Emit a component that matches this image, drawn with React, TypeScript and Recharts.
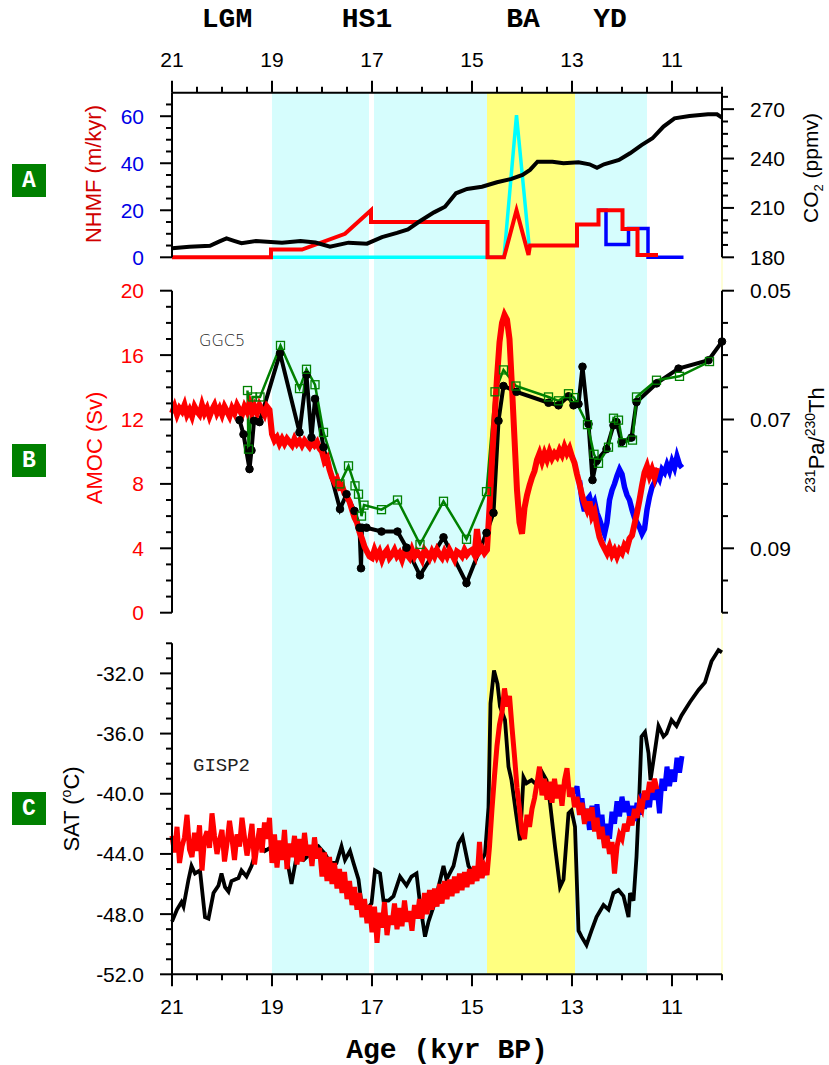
import React from "react";
import { ComposedChart, Line, XAxis, YAxis, ReferenceArea, ReferenceLine } from "recharts";

// page + plot frame
const W = 829;
const H = 1065;
const PLOT_LEFT = 172;
const PLOT_RIGHT = 722;
const AXIS_W = 80;
const A_TOP = 92.7;
const A_BOTTOM = 257.3;
const B_TOP = 290.7;
const B_BOTTOM = 612.7;
const C_TOP = 643.3;
const C_BOTTOM = 974.3;

const SANS = "'Liberation Sans', Arial, Helvetica, sans-serif";
const MONO = "'Liberation Mono', 'Courier New', monospace";
const AXIS_LINE = { stroke: "#000", strokeWidth: 2 };
const AGE_DOMAIN: [number, number] = [10, 21];
const CYAN_FILL = "#d6fdfd";
const YELLOW_FILL = "#ffff80";

// ---- tick labels
const ageTicks = [21, 20.5, 20, 19.5, 19, 18.5, 18, 17.5, 17, 16.5, 16, 15.5, 15, 14.5, 14, 13.5, 13, 12.5, 12, 11.5, 11, 10.5, 10];
const ageMajor = [21, 19, 17, 15, 13, 11];
const nhmfTicks = [0, 5, 10, 15, 20, 25, 30, 35, 40, 45, 50, 55, 60, 65];
const nhmfMajor = [0, 20, 40, 60];
const co2Ticks = [180, 187.5, 195, 202.5, 210, 217.5, 225, 232.5, 240, 247.5, 255, 262.5, 270, 277.5];
const co2Major = [180, 210, 240, 270];
const amocTicks = [0, 1, 2, 3, 4, 5, 6, 7, 8, 9, 10, 11, 12, 13, 14, 15, 16, 17, 18, 19, 20];
const amocMajor = [0, 4, 8, 12, 16, 20];
const paThTicks = [0.05, 0.055, 0.06, 0.065, 0.07, 0.075, 0.08, 0.085, 0.09, 0.095, 0.1];
const paThMajor = [0.05, 0.07, 0.09];
const satTicks = [-52, -51, -50, -49, -48, -47, -46, -45, -44, -43, -42, -41, -40, -39, -38, -37, -36, -35, -34, -33, -32, -31, -30];
const satMajor = [-52, -48, -44, -40, -36, -32];

// ---- periods and shading (kyr BP)
const periodNames = ["LGM", "HS1", "BA", "YD"];
const periodAges = [19.9, 17.1, 13.98, 12.24];
const cyanBands: [number, number][] = [[19, 17.06], [16.96, 14.7], [12.94, 11.5]];
const yellowBand: [number, number] = [14.7, 12.94];

// ---- panel A: CO2 (ppmv)
const co2Age = [21.0, 20.65, 20.24, 20.06, 19.91, 19.76, 19.61, 19.32, 18.8, 18.43, 18.13, 17.84, 17.47, 17.1, 16.8, 16.5, 16.28, 16.06, 15.76, 15.54, 15.32, 15.1, 14.8, 14.5, 14.21, 13.99, 13.84, 13.69, 13.39, 13.17, 12.87, 12.65, 12.5, 12.36, 12.06, 11.84, 11.61, 11.39, 11.17, 10.95, 10.65, 10.28, 10.1, 10.0];
const co2Ppm = [185.5, 186.4, 187, 189.5, 191.5, 190, 188.6, 189.9, 188.9, 189.9, 189, 186.4, 188.9, 188.3, 192.3, 194.8, 197, 201.6, 207.3, 210.7, 218.9, 221.5, 222.9, 225.6, 227.6, 230.1, 233.1, 238.1, 238.1, 237.1, 237.7, 236.5, 234.4, 236.5, 239.1, 243.2, 248.2, 252.3, 259.4, 264.4, 265.8, 266.9, 266.9, 264.8];

// ---- panel A: NHMF (m/kyr)
const nhmfRedAge = [21, 19.02, 19.02, 18.4, 17.54, 17.02, 17.02, 14.69, 14.69, 14.36, 14.11, 13.87, 13.84, 12.9, 12.9, 12.47, 12.47, 11.99, 11.99, 11.69, 11.69, 11.28];
const nhmfRedVal = [0, 0, 3.3, 3.3, 10, 20, 15, 15, 0, 0, 20, 1, 5, 5, 14, 14, 20, 20, 12, 12, 1, 1];
const nhmfBlueAge = [12.47, 12.32, 12.32, 11.87, 11.87, 11.48, 11.48, 10.77];
const nhmfBlueVal = [20, 20, 5.4, 5.4, 12.2, 12.2, 0, 0];
const nhmfCyanAge = [19.02, 14.36, 14.11, 13.86];
const nhmfCyanVal = [0, 0, 60.4, 5.5];

// ---- panel B: 231Pa/230Th
const paThAge = [19.65, 19.57, 19.45, 19.41, 19.36, 19.25, 18.84, 18.45, 18.31, 18.21, 18.14, 17.97, 17.64, 17.51, 17.35, 17.25, 17.22, 17.2, 17.11, 16.81, 16.49, 16.31, 16.04, 15.57, 15.11, 14.71, 14.57, 14.47, 14.37, 14.11, 13.47, 13.27, 13.07, 12.97, 12.87, 12.79, 12.67, 12.59, 12.51, 12.31, 12.17, 12.11, 12.01, 11.81, 11.71, 11.31, 10.87, 10.27, 10.0];
const paThVal = [0.0701, 0.0723, 0.0777, 0.0748, 0.0702, 0.0704, 0.0597, 0.072, 0.0631, 0.0728, 0.0668, 0.0743, 0.0839, 0.0816, 0.0842, 0.0868, 0.0931, 0.0868, 0.0868, 0.0874, 0.0874, 0.0899, 0.0942, 0.0883, 0.0954, 0.0876, 0.0845, 0.0702, 0.0648, 0.0657, 0.0674, 0.0678, 0.0664, 0.0678, 0.0676, 0.0618, 0.0707, 0.0794, 0.0764, 0.0746, 0.0709, 0.0704, 0.0735, 0.0728, 0.0673, 0.0644, 0.0621, 0.0608, 0.0579];
const ggc5Age = [19.49, 19.47, 19.39, 19.24, 18.83, 18.45, 18.31, 18.14, 17.97, 17.64, 17.47, 17.34, 17.27, 17.21, 17.16, 16.81, 16.49, 16.04, 15.57, 15.11, 14.71, 14.54, 14.37, 14.12, 13.47, 13.27, 13.07, 12.96, 12.69, 12.56, 12.47, 12.27, 12.17, 12.07, 11.99, 11.79, 11.71, 11.31, 10.85, 10.25];
const ggc5Val = [0.0655, 0.0746, 0.0665, 0.0665, 0.0585, 0.0652, 0.0622, 0.0646, 0.072, 0.08, 0.0772, 0.0803, 0.0816, 0.085, 0.0833, 0.084, 0.0825, 0.0894, 0.0827, 0.0886, 0.0812, 0.0657, 0.0623, 0.0648, 0.0665, 0.0671, 0.066, 0.0666, 0.0708, 0.0754, 0.0768, 0.0743, 0.0698, 0.0701, 0.0736, 0.0732, 0.0665, 0.0639, 0.0633, 0.061];

// ---- panel B: AMOC (Sv), model output every 50 yr
const amocRedStart = 21;
const amocRedStep = 0.05;
const amocRed = [
  12.4, 12.8, 12.3, 12.7, 12.5, 12.9, 12.3, 12.6, 12.2, 12.8, 12.5, 12.3, 12.9, 12.4, 12.7, 12.2, 12.6, 12.9, 12.4, 12.7,
  12.3, 12.8, 12.5, 12.2, 12.7, 12.4, 12.9, 12.6, 12.3, 12.8, 12.5, 13.0, 12.4, 12.8, 12.4, 12.9, 12.6, 12.3, 12.8, 12.6,
  11.1, 10.7, 10.9, 10.5, 10.8, 10.5, 10.8, 10.6, 10.4, 10.8, 10.5, 10.7, 10.4, 10.7, 10.5, 10.3, 10.6, 10.4, 10.6, 10.2,
  10.0, 9.4, 9.6, 8.9, 8.4, 8.1, 8.3, 7.8, 7.9, 7.4, 7.2, 6.9, 6.4, 5.9, 5.6, 5.0, 4.6, 4.1, 3.8, 3.5,
  3.4, 3.9, 3.5, 3.8, 3.3, 3.7, 3.9, 3.4, 3.6, 3.9, 3.5, 3.7, 3.3, 3.8, 3.6, 3.4, 3.9, 3.5, 3.8, 3.6,
  3.3, 3.9, 3.7, 3.4, 3.8, 3.5, 3.9, 3.6, 3.4, 3.8, 3.5, 3.9, 3.6, 3.3, 3.8, 3.7, 3.5, 3.9, 3.6, 3.8,
  3.9, 3.6, 5.2, 3.8, 4.0, 3.7, 3.9,
  6.5, 9.5, 12.0, 14.6, 16.8, 18.0, 18.5, 18.2, 17.0, 14.0, 10.8, 7.6, 5.6, 4.9,
  6.5, 7.3, 7.9, 8.4, 8.8, 9.5, 9.9, 9.4, 9.9, 9.5, 10.0, 9.6, 9.9, 9.7, 10.1, 9.8, 10.3, 9.9, 10.2, 9.7,
  9.3, 8.6, 8.0, 7.3, 6.8, 6.4, 6.9, 6.0, 6.3, 5.4, 4.7, 4.3, 4.0, 3.7, 4.1, 3.6, 3.9, 3.5, 3.9, 3.7,
  4.2, 4.0, 4.6, 4.8, 5.5, 6.2, 7.0, 7.9, 8.7, 9.1, 8.5, 8.9, 8.4, 9.0,
];
const amocBlueStart = 12.85;
const amocBlueStep = 0.05;
const amocBlue = [
  8.2, 7.0, 6.3, 7.0, 7.2, 6.6, 6.9, 6.2, 5.8, 5.3, 4.9, 5.6, 7.0, 7.6, 8.0, 8.5, 8.9, 8.6, 7.8, 7.3,
  7.0, 6.4, 5.9, 5.6, 5.3, 4.9, 5.2, 6.4, 7.2, 7.8, 8.1, 8.6, 8.3, 8.9, 8.7, 9.2, 8.8, 9.4, 9.0, 9.7,
  9.2, 9.0,
];

// ---- panel C: SAT (degC)
const gisp2Age = [21.0, 20.9, 20.81, 20.77, 20.67, 20.61, 20.54, 20.44, 20.34, 20.27, 20.17, 20.07, 20.01, 19.94, 19.87, 19.81, 19.67, 19.61, 19.51, 19.41, 19.31, 19.24, 19.14, 19.04, 18.94, 18.84, 18.71, 18.61, 18.51, 18.37, 18.24, 18.07, 17.94, 17.84, 17.71, 17.61, 17.54, 17.44, 17.37, 17.27, 17.21, 17.11, 17.01, 16.94, 16.84, 16.77, 16.67, 16.57, 16.44, 16.31, 16.21, 16.11, 16.04, 15.94, 15.87, 15.77, 15.67, 15.57, 15.51, 15.37, 15.27, 15.19, 15.07, 14.97, 14.84, 14.74, 14.67, 14.63, 14.56, 14.49, 14.44, 14.34, 14.27, 14.21, 14.12, 14.04, 13.97, 13.91, 13.81, 13.71, 13.61, 13.51, 13.44, 13.34, 13.24, 13.17, 13.07, 13.01, 12.94, 12.87, 12.81, 12.71, 12.61, 12.51, 12.37, 12.27, 12.17, 12.07, 11.97, 11.87, 11.84, 11.77, 11.71, 11.65, 11.61, 11.54, 11.47, 11.43, 11.34, 11.27, 11.17, 11.11, 11.01, 10.91, 10.81, 10.64, 10.47, 10.34, 10.21, 10.07, 10.0];
const gisp2Val = [-48.5, -47.7, -47.2, -47.5, -45.7, -44.8, -45.3, -45.1, -48.2, -48.3, -46.6, -46.1, -45.3, -46.2, -46.5, -45.8, -45.6, -45.1, -45.5, -44.8, -43.7, -43.3, -43.8, -43.6, -43.2, -44.0, -44.2, -46.0, -44.2, -44.4, -44.0, -43.5, -44.0, -44.6, -44.6, -43.5, -44.4, -43.8, -44.6, -45.7, -47.3, -47.7, -47.3, -45.1, -45.3, -47.1, -47.1, -46.8, -45.5, -46.1, -45.5, -45.3, -47.3, -49.5, -48.5, -47.5, -46.2, -44.8, -45.7, -44.8, -43.3, -42.85, -44.8, -45.3, -44.6, -44.0, -40.9, -34.0, -31.8, -32.7, -34.2, -35.1, -38.2, -39.1, -41.3, -43.1, -38.9, -39.3, -39.1, -39.4, -38.5, -39.1, -40.6, -43.5, -46.2, -45.7, -41.3, -41.1, -42.2, -49.1, -49.5, -50.05, -49.1, -48.2, -47.4, -47.7, -46.6, -46.4, -46.8, -48.2, -46.6, -47.1, -44.2, -39.75, -36.2, -35.9, -37.3, -39.1, -37.1, -35.5, -36.2, -36.0, -35.1, -35.5, -34.8, -33.9, -33.1, -32.6, -31.2, -30.45, -30.6];
const satRedStart = 21;
const satRedStep = 0.05;
const satRed = [
  -42.8, -43.9, -42.2, -44.6, -43.5, -42.9, -41.4, -43.7, -44.2, -42.6, -43.8, -42.1, -45.1, -43.0, -42.5, -43.6, -41.3, -42.8, -44.0, -43.1,
  -42.4, -44.5, -43.3, -41.8, -43.0, -44.4, -42.7, -43.5, -41.6, -42.9, -44.1, -43.2, -42.0, -44.7, -43.4, -42.3, -43.9, -41.9, -43.0, -41.6,
  -44.6, -42.7, -44.9, -43.1, -44.4, -42.4, -45.0, -43.3, -44.2, -42.8, -44.7, -43.0, -44.5, -42.6, -44.1, -43.4, -44.8, -42.9, -44.3, -43.6,
  -45.5, -43.9, -45.8, -44.2, -46.0, -44.6, -46.3, -45.0, -46.6, -45.2, -47.0, -45.8, -47.4, -46.2, -47.7, -46.6, -48.2, -47.0, -48.6, -47.4,
  -49.2, -47.5, -49.9, -47.9, -48.9, -47.2, -49.4, -48.1, -48.7, -47.3, -49.0, -47.6, -48.8, -47.1, -48.5, -47.8, -49.1, -47.4, -48.3, -47.0,
  -48.3, -46.6, -48.0, -46.4, -47.7, -46.3, -47.5, -46.0, -47.3, -45.8, -47.0, -45.7, -46.8, -45.5, -46.6, -45.3, -46.4, -45.2, -46.2, -45.0,
  -46.0, -44.8, -45.8, -43.2, -45.6, -44.9, -45.4,
  -43.5, -41.0, -38.8, -36.8, -35.4, -34.6, -33.0, -34.2, -33.5, -35.6, -37.5, -39.6, -41.0, -42.6,
  -43.0, -41.4, -42.2, -41.0, -40.3, -39.3, -38.2, -40.1, -39.0, -40.4, -39.2, -40.6, -39.0, -40.3, -39.4, -40.8, -39.1, -38.3, -40.2, -39.6,
  -40.9, -40.2, -41.4, -40.6, -42.0, -41.0, -41.8, -40.9, -42.5, -41.6, -43.0, -42.2, -43.6, -42.8, -44.0, -43.2, -45.3, -43.5, -42.7, -43.0,
  -42.0, -42.5, -41.5, -42.1, -41.0, -41.6, -40.6, -41.0, -39.8, -40.4, -39.2, -39.9, -39.0, -39.7,
];
const satBlueStart = 12.95;
const satBlueStep = 0.05;
const satBlue = [
  -40.0, -39.5, -41.0, -40.3, -41.8, -41.0, -42.4, -40.8, -41.9, -40.7, -42.3, -41.4, -43.4, -42.0, -43.0, -41.2, -42.0, -40.5, -41.5, -40.2,
  -41.2, -40.5, -41.5, -40.8, -41.8, -40.6, -41.4, -40.0, -41.0, -40.1, -40.9, -39.3, -40.4, -39.6, -41.3, -39.0, -39.8, -38.2, -39.5, -38.4,
  -39.2, -37.6, -38.6, -37.5,
];

type Pt = { t: number; v: number };
const pairs = (ages: number[], vals: number[]): Pt[] => ages.map((t, i) => ({ t, v: vals[i] }));
const grid = (start: number, step: number, vals: number[]): Pt[] =>
  vals.map((v, i) => ({ t: +(start - i * step).toFixed(3), v }));

const co2Data = pairs(co2Age, co2Ppm);
const nhmfRed = pairs(nhmfRedAge, nhmfRedVal);
const nhmfBlue = pairs(nhmfBlueAge, nhmfBlueVal);
const nhmfCyan = pairs(nhmfCyanAge, nhmfCyanVal);
const paThData = pairs(paThAge, paThVal);
const ggc5Data = pairs(ggc5Age, ggc5Val);
const amocRedData = grid(amocRedStart, amocRedStep, amocRed);
const amocBlueData = grid(amocBlueStart, amocBlueStep, amocBlue);
const gisp2Data = pairs(gisp2Age, gisp2Val);
const satRedData = grid(satRedStart, satRedStep, satRed);
const satBlueData = grid(satBlueStart, satBlueStep, satBlue);
const frameData = ageTicks.map((t) => ({ t, v: 0.5 }));

type TickProps = { x?: number; y?: number; payload?: { value: number } };
const isMajor = (majors: number[], v: number) => majors.some((m) => Math.abs(m - v) < 1e-6);

function makeYTick(side: "left" | "right", majors: number[], color: string, fmt: (v: number) => string) {
  const axisX = side === "left" ? PLOT_LEFT : PLOT_RIGHT;
  const dir = side === "left" ? -1 : 1;
  return function YTick(props: TickProps) {
    const y = props.y ?? 0;
    const v = props.payload?.value ?? 0;
    const major = isMajor(majors, v);
    return (
      <g>
        <line x1={axisX} x2={axisX + dir * (major ? 12 : 6)} y1={y} y2={y} stroke="#000" strokeWidth={2} />
        {major && (
          <text x={axisX + dir * 28} y={y} dy="0.36em" textAnchor={side === "left" ? "end" : "start"}
            fill={color} fontSize={21} fontFamily={SANS}>
            {fmt(v)}
          </text>
        )}
      </g>
    );
  };
}

function makeXTick(side: "top" | "bottom") {
  const axisY = side === "top" ? A_TOP : C_BOTTOM;
  const dir = side === "top" ? -1 : 1;
  const labelY = side === "top" ? 66.5 : 1013.5;
  return function XTick(props: TickProps) {
    const x = props.x ?? 0;
    const v = props.payload?.value ?? 0;
    const major = isMajor(ageMajor, v);
    return (
      <g>
        <line x1={x} x2={x} y1={axisY} y2={axisY + dir * (major ? 12 : 6)} stroke="#000" strokeWidth={2} />
        {major && (
          <text x={x} y={labelY} textAnchor="middle" fill="#000" fontSize={21} fontFamily={SANS}>
            {String(v)}
          </text>
        )}
      </g>
    );
  };
}

const topTick = makeXTick("top");
const bottomTick = makeXTick("bottom");
const nhmfTick = makeYTick("left", nhmfMajor, "#0000e6", (v) => String(v));
const co2Tick = makeYTick("right", co2Major, "#000", (v) => String(v));
const amocTick = makeYTick("left", amocMajor, "#ff0000", (v) => String(v));
const paThTick = makeYTick("right", paThMajor, "#000", (v) => v.toFixed(2));
const satTick = makeYTick("left", satMajor, "#000", (v) => v.toFixed(1));

const renderSquare = (p: { cx?: number; cy?: number; index?: number }) => {
  if (p.cx == null || p.cy == null) return <g key={p.index} />;
  return <rect key={p.index} x={p.cx - 4} y={p.cy - 4} width={8} height={8} fill="none" stroke="#008000" strokeWidth={1.3} />;
};

function Backdrop() {
  return (
    <ComposedChart width={W} height={H} data={frameData}
      margin={{ top: A_TOP - 40, right: W - PLOT_RIGHT, bottom: H - C_BOTTOM - 40, left: PLOT_LEFT }}>
      <XAxis xAxisId="top" orientation="top" dataKey="t" type="number" domain={AGE_DOMAIN} reversed allowDataOverflow
        ticks={ageTicks} interval={0} height={40} tickLine={false} axisLine={AXIS_LINE} tick={topTick} />
      <XAxis xAxisId="bottom" orientation="bottom" dataKey="t" type="number" domain={AGE_DOMAIN} reversed allowDataOverflow
        ticks={ageTicks} interval={0} height={40} tickLine={false} axisLine={AXIS_LINE} tick={bottomTick} />
      <YAxis yAxisId="bg" hide type="number" domain={[0, 1]} allowDataOverflow />
      {cyanBands.map(([a, b]) => (
        <ReferenceArea key={a} xAxisId="top" yAxisId="bg" x1={a} x2={b} y1={0} y2={1}
          fill={CYAN_FILL} fillOpacity={1} stroke="none" ifOverflow="visible" />
      ))}
      <ReferenceArea xAxisId="top" yAxisId="bg" x1={yellowBand[0]} x2={yellowBand[1]} y1={0} y2={1}
        fill={YELLOW_FILL} fillOpacity={1} stroke="none" ifOverflow="visible" />
      <ReferenceLine xAxisId="top" yAxisId="bg" x={10} stroke="#ffffb0" strokeWidth={1} ifOverflow="visible" />
      {periodNames.map((name, i) => (
        <ReferenceLine key={name} xAxisId="top" yAxisId="bg" x={periodAges[i]} stroke="none" ifOverflow="visible"
          label={{ value: name, position: "top", offset: 66, fill: "#000", fontSize: 28, fontWeight: "bold", fontFamily: MONO }} />
      ))}
      <Line xAxisId="top" yAxisId="bg" dataKey="v" stroke="none" dot={false} isAnimationActive={false} />
    </ComposedChart>
  );
}

function PanelA() {
  const h = 300;
  return (
    <ComposedChart width={W} height={h}
      margin={{ top: A_TOP, right: W - PLOT_RIGHT - AXIS_W, bottom: h - A_BOTTOM, left: PLOT_LEFT - AXIS_W }}>
      <XAxis xAxisId="a" orientation="bottom" dataKey="t" type="number" domain={AGE_DOMAIN} reversed
        height={0} tick={false} tickLine={false} axisLine={AXIS_LINE} />
      <YAxis yAxisId="nh" orientation="left" width={AXIS_W} type="number" domain={[0, 70]} ticks={nhmfTicks}
        interval={0} tickLine={false} axisLine={AXIS_LINE} tick={nhmfTick} />
      <YAxis yAxisId="co2" orientation="right" width={AXIS_W} type="number" domain={[180, 280]} ticks={co2Ticks}
        interval={0} tickLine={false} axisLine={AXIS_LINE} tick={co2Tick} />
      <Line xAxisId="a" yAxisId="nh" data={nhmfCyan} dataKey="v" stroke="#00ffff" strokeWidth={3.5} dot={false} isAnimationActive={false} />
      <Line xAxisId="a" yAxisId="nh" data={nhmfBlue} dataKey="v" stroke="#0000ff" strokeWidth={3.5} dot={false} isAnimationActive={false} />
      <Line xAxisId="a" yAxisId="nh" data={nhmfRed} dataKey="v" stroke="#ff0000" strokeWidth={4} dot={false} isAnimationActive={false} />
      <Line xAxisId="a" yAxisId="co2" data={co2Data} dataKey="v" stroke="#000" strokeWidth={4} dot={false} isAnimationActive={false} />
    </ComposedChart>
  );
}

function PanelB() {
  const top = 260;
  const h = 380;
  return (
    <ComposedChart width={W} height={h}
      margin={{ top: B_TOP - top, right: W - PLOT_RIGHT - AXIS_W, bottom: top + h - B_BOTTOM, left: PLOT_LEFT - AXIS_W }}>
      <XAxis xAxisId="b" dataKey="t" type="number" domain={AGE_DOMAIN} reversed hide />
      <YAxis yAxisId="amoc" orientation="left" width={AXIS_W} type="number" domain={[0, 20]} ticks={amocTicks}
        interval={0} tickLine={false} axisLine={AXIS_LINE} tick={amocTick} />
      <YAxis yAxisId="pa" orientation="right" width={AXIS_W} type="number" domain={[0.05, 0.1]} reversed
        ticks={paThTicks} interval={0} tickLine={false} axisLine={AXIS_LINE} tick={paThTick} />
      <Line xAxisId="b" yAxisId="pa" data={paThData} dataKey="v" stroke="#000" strokeWidth={4}
        dot={{ r: 3.8, fill: "#000", stroke: "#000", strokeWidth: 1 }} isAnimationActive={false} />
      <Line xAxisId="b" yAxisId="pa" data={ggc5Data} dataKey="v" stroke="#008000" strokeWidth={2.5}
        dot={renderSquare} isAnimationActive={false} />
      <Line xAxisId="b" yAxisId="amoc" data={amocBlueData} dataKey="v" stroke="#0000ff" strokeWidth={5.5} dot={false} isAnimationActive={false} />
      <Line xAxisId="b" yAxisId="amoc" data={amocRedData} dataKey="v" stroke="#ff0000" strokeWidth={6} dot={false} isAnimationActive={false} />
    </ComposedChart>
  );
}

function PanelC() {
  const top = 620;
  const h = 400;
  return (
    <ComposedChart width={W} height={h}
      margin={{ top: C_TOP - top, right: W - PLOT_RIGHT, bottom: top + h - C_BOTTOM, left: PLOT_LEFT - AXIS_W }}>
      <XAxis xAxisId="c" dataKey="t" type="number" domain={AGE_DOMAIN} reversed hide />
      <YAxis yAxisId="sat" orientation="left" width={AXIS_W} type="number" domain={[-52, -30]} ticks={satTicks}
        interval={0} tickLine={false} axisLine={AXIS_LINE} tick={satTick} />
      <Line xAxisId="c" yAxisId="sat" data={gisp2Data} dataKey="v" stroke="#000" strokeWidth={3.8} dot={false} isAnimationActive={false} />
      <Line xAxisId="c" yAxisId="sat" data={satBlueData} dataKey="v" stroke="#0000ff" strokeWidth={5} dot={false} isAnimationActive={false} />
      <Line xAxisId="c" yAxisId="sat" data={satRedData} dataKey="v" stroke="#ff0000" strokeWidth={5} dot={false} isAnimationActive={false} />
    </ComposedChart>
  );
}

function Badge({ y, letter }: { y: number; letter: string }) {
  return (
    <g>
      <rect x={12} y={y} width={34} height={33} fill="#008000" />
      <text x={29} y={y + 23} textAnchor="middle" fill="#fff" fontSize={23} fontWeight="bold" fontFamily={MONO}>{letter}</text>
    </g>
  );
}

function Overlay() {
  return (
    <svg width={W} height={H} style={{ position: "absolute", left: 0, top: 0, pointerEvents: "none" }}>
      <Badge y={164} letter="A" />
      <Badge y={444} letter="B" />
      <Badge y={792} letter="C" />
      <text transform="rotate(-90 101 174)" x={101} y={174} textAnchor="middle" fill="#d00000" fontSize={22} fontFamily={SANS}>
        NHMF (m/kyr)
      </text>
      <text transform="rotate(-90 102 448)" x={102} y={448} textAnchor="middle" fill="#ff0000" fontSize={22} fontFamily={SANS}>
        AMOC (Sv)
      </text>
      <text transform="rotate(-90 79 809)" x={79} y={809} textAnchor="middle" fill="#000" fontSize={22} fontFamily={SANS}>
        SAT (<tspan fontSize={14} dy={-8}>o</tspan><tspan dy={8}>C)</tspan>
      </text>
      <text transform="rotate(-90 818 168)" x={818} y={168} textAnchor="middle" fill="#000" fontSize={21} fontFamily={SANS}>
        CO<tspan fontSize={13} dy={5}>2</tspan><tspan dy={-5}> (ppmv)</tspan>
      </text>
      <text transform="rotate(-90 824 440)" x={824} y={440} textAnchor="middle" fill="#000" fontSize={22} fontFamily={SANS}>
        <tspan fontSize={14} dy={-9}>231</tspan><tspan dy={9}>Pa/</tspan><tspan fontSize={14} dy={-9}>230</tspan><tspan dy={9}>Th</tspan>
      </text>
      <text x={199} y={346} fill="#222" fontSize={16} fontWeight={200} fontFamily="'DejaVu Sans', sans-serif">GGC5</text>
      <text x={193} y={771} fill="#222" fontSize={19} fontFamily={MONO}>GISP2</text>
      <text x={447} y={1058} textAnchor="middle" fill="#000" fontSize={28} fontWeight="bold" fontFamily={MONO}>Age (kyr BP)</text>
    </svg>
  );
}

export default function App() {
  return (
    <div style={{ position: "absolute", left: 0, top: 0, width: W, height: H, background: "#fff", overflow: "hidden" }}>
      <div style={{ position: "absolute", left: 0, top: 0 }}><Backdrop /></div>
      <div style={{ position: "absolute", left: 0, top: 0 }}><PanelA /></div>
      <div style={{ position: "absolute", left: 0, top: 260 }}><PanelB /></div>
      <div style={{ position: "absolute", left: 0, top: 620 }}><PanelC /></div>
      <Overlay />
    </div>
  );
}
